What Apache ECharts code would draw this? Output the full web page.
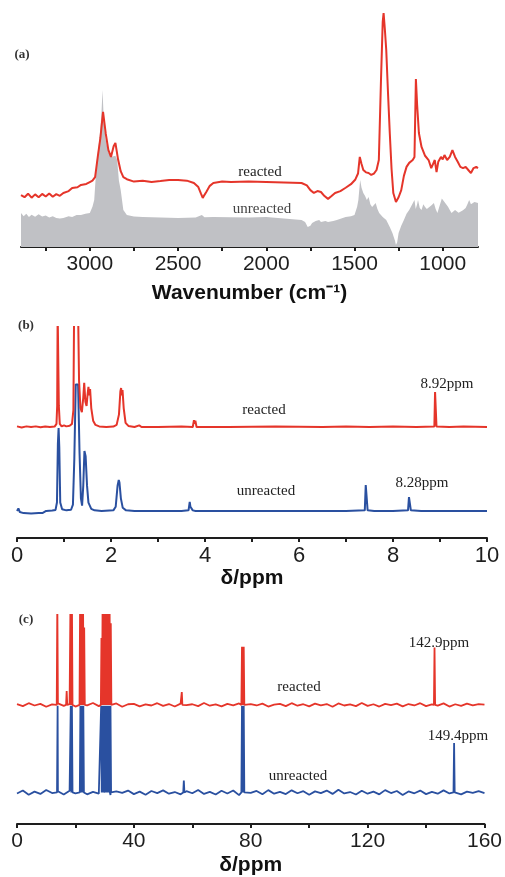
<!DOCTYPE html>
<html>
<head>
<meta charset="utf-8">
<script src="https://cdn.jsdelivr.net/npm/echarts@6/dist/echarts.min.js"></script>
<style>
  html, body { margin: 0; padding: 0; background: #fff; }
  #chart { width: 505px; height: 877px; }
</style>
</head>
<body>
<div id="chart"></div>
<script>
// (a) IR spectra, [wavenumber, intensity a.u.]
var irReacted = [
  [3390,21.9],[3370,21.0],[3350,22.5],[3330,20.8],[3310,22.2],[3290,21.0],[3270,22.4],[3250,21.3],[3230,22.6],[3210,21.2],
  [3190,22.3],[3170,21.6],[3150,22.8],[3120,23.6],[3100,24.9],[3070,25.2],[3050,26.2],[3020,26.6],[3000,27.4],[2985,28.0],
  [2970,29.5],[2955,38],[2940,46],[2925,57.0],[2910,48],[2895,41],[2880,38.0],[2865,42.5],[2855,43.9],[2840,37],
  [2825,32],[2810,29.5],[2790,28.6],[2750,27.6],[2700,28.0],[2650,27.4],[2600,27.8],[2550,28.3],[2500,28.3],[2450,28.0],
  [2410,27.0],[2385,25.3],[2370,22.5],[2360,20.7],[2350,22.0],[2340,23.2],[2320,25.8],[2300,27.0],[2250,27.6],[2200,27.4],
  [2100,27.6],[2000,27.4],[1900,27.2],[1800,27.0],[1770,26.0],[1750,24.0],[1730,22.8],[1710,23.6],[1690,23.2],[1670,21.5],
  [1650,20.3],[1630,21.5],[1610,22.8],[1580,23.6],[1550,25.0],[1520,26.5],[1495,28.5],[1480,31],[1470,38.0],[1460,35],
  [1450,32.5],[1435,31.5],[1420,31.2],[1405,30.4],[1390,31],[1375,32.5],[1362,36.7],[1350,70],[1340,95],[1335,98.7],
  [1328,92],[1320,83.1],[1310,65],[1300,48.1],[1290,33],[1280,22.8],[1265,19.0],[1250,21],[1235,24],[1220,30],
  [1205,33.8],[1190,35.5],[1170,36.7],[1160,38],[1152,70.9],[1145,60],[1135,48.1],[1120,42.2],[1100,38.5],[1080,36.7],
  [1065,33.3],[1055,35],[1045,36.7],[1035,31.6],[1025,36],[1010,38.0],[1000,37],[990,38.8],[975,36.7],[960,38],
  [945,40.9],[930,38],[915,36],[900,33.8],[885,33.3],[870,33.8],[855,32.5],[840,31.2],[825,33.3],[810,33.8],[800,33.3]
];
var irUnreacted = [
  [3390,14.3],[3375,13.0],[3360,14.0],[3345,12.7],[3330,13.6],[3310,12.8],[3290,13.8],[3270,12.9],[3250,13.3],[3230,12.4],
  [3210,13.0],[3190,12.2],[3170,12.0],[3150,12.2],[3120,13.0],[3100,12.7],[3075,13.5],[3050,13.5],[3025,14.0],[3000,14.3],
  [2985,17],[2975,19.8],[2960,36.7],[2945,46],[2935,55],[2928,66.2],[2920,52],[2910,45.1],[2895,40],[2880,38.0],
  [2870,38.8],[2855,38.5],[2845,36.7],[2835,28],[2825,24.1],[2810,15.6],[2790,13.5],[2750,12.9],[2700,12.7],[2600,12.4],
  [2500,12.2],[2400,12.4],[2365,13.5],[2350,12.6],[2300,12.7],[2200,12.6],[2100,12.4],[2000,12.7],[1900,12.0],[1800,11.4],
  [1780,10.5],[1765,8.4],[1750,9.0],[1740,10.1],[1720,11.0],[1700,11.4],[1690,10.5],[1680,10.1],[1665,11.0],[1650,10.5],
  [1620,11.0],[1600,11.4],[1575,12.0],[1550,12.7],[1520,13.0],[1500,13.5],[1485,17],[1478,19.8],[1468,28.3],[1460,25],
  [1450,22.8],[1440,21.5],[1430,19.8],[1420,21.1],[1410,18],[1400,16.9],[1390,17.5],[1380,18.6],[1370,16],[1360,14.3],
  [1340,12.7],[1320,11.4],[1300,8.4],[1285,5.9],[1270,2.5],[1265,0.8],[1258,2],[1250,5.9],[1235,9],[1220,11.4],
  [1205,14],[1190,15.6],[1175,17.7],[1165,17],[1160,19.8],[1153,16],[1145,18],[1140,19.8],[1130,16.5],[1120,15.6],
  [1110,18],[1100,16.9],[1090,16],[1080,15.6],[1065,17.5],[1050,18.6],[1040,16],[1030,14.3],[1015,18],[1005,20.5],
  [1000,21.1],[990,19],[980,18.6],[970,17],[960,15.6],[950,14.3],[940,14.0],[930,15.6],[920,15],[910,14.5],
  [900,14.3],[885,15.5],[870,16.5],[860,18],[850,19.8],[840,18],[830,18.6],[820,19.0],[810,19.5],[800,18.6]
];
var irTicks = [3250, 3000, 2750, 2500, 2250, 2000, 1750, 1500, 1250, 1000];
var irLabels = [3000, 2500, 2000, 1500, 1000];

// (b) 1H NMR, [ppm, intensity above own baseline]
var h1Reacted = [
  [0,0.3],[0.1,-0.2],[0.2,0.3],[0.3,0],[0.4,0.3],[0.5,-0.1],[0.6,0.2],[0.7,0],
  [0.8,0.2],[0.84,1.5],[0.855,10],[0.865,55],[0.88,55],[0.89,10],[0.91,1.5],[0.95,0.3],[1.0,0.8],[1.05,0.3],[1.12,0.6],
  [1.17,1.5],[1.20,8],[1.215,55],[1.30,55],[1.32,22],[1.35,9],[1.38,7],[1.41,14],[1.43,20.9],[1.455,12],[1.48,10],
  [1.50,15],[1.52,19],[1.54,15],[1.555,18],[1.58,9],[1.62,3],[1.67,1],[1.75,0.3],[1.9,0],[2.05,0.2],
  [2.12,1],[2.17,6],[2.20,17],[2.215,18.5],[2.23,15],[2.245,17.5],[2.27,9],[2.31,2],[2.37,0.5],[2.5,0],[2.6,0.8],[2.65,0],
  [3.0,0],[3.5,0.3],[3.74,0],[3.765,3.2],[3.78,1.5],[3.795,3.0],[3.82,0],
  [4.5,0],[5.5,0.2],[6.5,0],[7.0,0.3],[7.5,0],[8.0,0.2],[8.5,0],[8.88,0.3],[8.895,16.6],[8.91,16.6],[8.925,0.3],
  [9.2,0],[9.5,0.2],[10,0]
];
var h1Unreacted = [
  [0,0],[0.03,1.2],[0.06,-0.5],[0.1,0.3],[0.14,-1.0],[0.18,-0.4],[0.22,-1.1],[0.26,-0.5],[0.30,-1.2],[0.34,-0.6],
  [0.38,-1.1],[0.42,-0.5],[0.46,-1.0],[0.50,-0.6],[0.54,-1.0],[0.58,-0.4],[0.62,0],[0.75,0.2],
  [0.82,0.5],[0.85,4],[0.87,32],[0.885,39.3],[0.90,30],[0.92,4],[0.96,0.8],[1.05,0.3],[1.15,0.6],
  [1.19,3],[1.22,25],[1.25,60],[1.30,60],[1.33,28],[1.36,6],[1.385,2.5],[1.41,12],[1.435,28.4],[1.46,26],[1.49,12],
  [1.52,4],[1.58,1],[1.65,0.3],[1.8,0],
  [2.05,0.3],[2.10,2],[2.14,12],[2.165,14.7],[2.18,13.5],[2.21,6],[2.25,1.5],[2.32,0.3],[2.5,0],
  [3.0,0],[3.5,0],[3.65,0.3],[3.675,4.3],[3.69,2],[3.71,1.8],[3.74,0.3],[3.8,0],
  [5,0],[6,0],[7,0],[7.40,0.3],[7.42,12.3],[7.44,12.3],[7.46,0.3],[7.6,0],
  [8.0,0],[8.32,0.3],[8.34,6.6],[8.36,6.6],[8.38,0.3],[8.6,0],[10,0]
];
var h1Ticks = [0, 1, 2, 3, 4, 5, 6, 7, 8, 9, 10];
var h1Labels = [0, 2, 4, 6, 8, 10];

// (c) 13C NMR: baseline noise every 2 ppm from 0 to 160, and peaks [ppm, height]
var c13Step = 2;
var c13ReactedNoise = [
  0.4,-0.6,0.8,-0.3,0.5,-0.9,0.2,0.7,-0.5,0.3,
  -0.8,0.6,-0.2,0.9,-0.6,0.1,-0.4,0.7,-0.9,0.3,
  0.5,-0.7,0.2,-0.3,0.8,-0.5,0.4,-0.8,0.6,-0.1,
  0.3,-0.6,0.9,-0.4,0.2,-0.7,0.5,-0.2,0.7,-0.9,
  0.4,-0.3,0.6,-0.8,0.1,0.5,-0.6,0.8,-0.4,0.3,
  -0.7,0.6,-0.2,0.4,-0.9,0.7,-0.3,0.2,-0.6,0.9,
  -0.5,0.3,-0.8,0.5,-0.1,0.6,-0.7,0.4,-0.3,0.8,
  -0.6,0.2,-0.4,0.7,-0.8,0.3,-0.5,0.6,-0.2,0.4,0.1
];
var c13UnreactedNoise = [
  -0.5,0.9,-1.1,0.4,-0.7,1.2,-0.3,0.6,-1.0,0.8,
  -0.4,1.1,-0.9,0.3,-0.6,1.0,-1.2,0.5,-0.2,0.9,
  -0.8,0.4,-1.1,0.7,-0.3,1.0,-0.6,0.2,-0.9,0.6,
  -0.4,1.2,-0.7,0.3,-1.0,0.8,-0.5,0.9,-1.3,0.4,
  -0.2,0.7,-0.9,1.1,-0.6,0.3,-0.8,1.0,-0.4,0.6,
  -1.1,0.5,-0.3,0.9,-0.7,1.3,-0.5,0.2,-1.0,0.8,
  -0.6,0.4,-0.9,1.1,-0.3,0.7,-1.2,0.5,-0.4,0.9,
  -0.8,0.3,-0.6,1.0,-0.5,0.7,-0.9,0.4,-0.2,0.6,-0.3
];
var c13ReactedPeaks = [
  [13.8,50],[17.0,6.6],[18.3,50],[18.8,50],[21.6,50],[22.1,50],[22.6,50],[23.0,37],
  [28.9,32],[29.3,50],[29.7,50],[30.1,50],[30.5,50],[30.9,50],[31.3,50],[31.7,45],[32.1,39],
  [56.4,6.1],[77.0,27.8],[77.3,27.8],[77.6,27.8],[142.9,27.4]
];
var c13UnreactedPeaks = [
  [13.9,41.5],[18.4,41.5],[18.8,41.5],[21.7,41.5],[22.2,41.5],[22.7,41.5],
  [28.8,41.5],[29.2,41.5],[29.6,41.5],[30.0,41.5],[30.4,41.5],[30.8,41.5],[31.2,41.5],[31.6,41.5],[32.0,41.5],
  [57.1,5.7],[77.0,41.5],[77.3,41.5],[77.6,41.5],[149.6,23.6]
];
var c13Ticks = [0, 20, 40, 60, 80, 100, 120, 140, 160];
var c13Labels = [0, 40, 80, 120, 160];

// vertical offsets of the stacked traces (y axes run 0..100)
var offB = { reacted: 52.6, unreacted: 12.8 };
var offC = { reacted: 57, unreacted: 15.1 };

var RED = '#e5352a', BLUE = '#2a50a0', GRAY = '#c0c1c5', INK = '#1e1e1e';
var SANS = 'Liberation Sans, Arial, sans-serif';

function shift(data, off) {
  return data.map(function (p) { return [p[0], p[1] + off]; });
}
// baseline noise + narrow stick peaks, sorted by ppm
function stickSpectrum(noise, peaks, off) {
  var pts = noise.map(function (v, i) { return [i * c13Step, v]; });
  var hw = 0.2;
  peaks.forEach(function (p) {
    pts.push([p[0] - hw, 0], [p[0], p[1]], [p[0] + hw, 0]);
  });
  pts.sort(function (a, b) { return a[0] - b[0]; });
  return shift(pts, off);
}

function xAxisFor(idx, ticks, labels, fontSize, opts) {
  return Object.assign({
    gridIndex: idx,
    type: 'value',
    axisLine: { show: true, onZero: false, lineStyle: { color: INK, width: 2 } },
    axisTick: { show: true, length: 4, customValues: ticks, lineStyle: { color: INK, width: 2 } },
    axisLabel: {
      customValues: labels, fontSize: fontSize, color: INK, margin: 7, fontFamily: SANS,
      formatter: function (v) { return String(v); }
    },
    splitLine: { show: false },
    nameLocation: 'middle',
    nameTextStyle: { fontSize: 21, fontWeight: 'bold', color: '#111', fontFamily: SANS }
  }, opts);
}

function lineSeries(x, data, color, width, extra) {
  return Object.assign({
    type: 'line', xAxisIndex: x, yAxisIndex: x, data: data,
    showSymbol: false, symbol: 'none', smooth: false, clip: true,
    lineStyle: { color: color, width: width }, itemStyle: { color: color },
    silent: true, animation: false
  }, extra || {});
}

function txt(x, y, text, size, color, bold) {
  return {
    type: 'text', x: x, y: y, silent: true,
    style: {
      text: text, fill: color, align: 'center', verticalAlign: 'middle',
      font: (bold ? 'bold ' : '') + size + 'px "Liberation Serif", "Times New Roman", serif'
    }
  };
}

var chart = echarts.init(document.getElementById('chart'), null, { renderer: 'canvas' });

chart.setOption({
  backgroundColor: '#fff',
  animation: false,
  grid: [
    { left: 21, right: 27, top: 10, height: 237 },
    { left: 17, right: 18, top: 327, height: 211 },
    { left: 17, right: 18, top: 615, height: 212 }
  ],
  xAxis: [
    xAxisFor(0, irTicks, irLabels, 21, {
      inverse: true, min: 800, max: 3390,
      name: 'Wavenumber (cm\u207B\u00B9)', nameGap: 36
    }),
    xAxisFor(1, h1Ticks, h1Labels, 22, { min: 0, max: 10, name: '\u03B4/ppm', nameGap: 23 }),
    xAxisFor(2, c13Ticks, c13Labels, 21, { min: 0, max: 160, name: '\u03B4/ppm', nameGap: 31 })
  ],
  yAxis: [0, 1, 2].map(function (i) {
    return { gridIndex: i, type: 'value', min: 0, max: 100, show: false };
  }),
  series: [
    lineSeries(0, irUnreacted, GRAY, 0, { areaStyle: { color: GRAY, opacity: 1 }, lineStyle: { width: 0, color: GRAY } }),
    lineSeries(0, irReacted, RED, 2),
    lineSeries(1, shift(h1Unreacted, offB.unreacted), BLUE, 2),
    lineSeries(1, shift(h1Reacted, offB.reacted), RED, 2),
    lineSeries(2, stickSpectrum(c13UnreactedNoise, c13UnreactedPeaks, offC.unreacted), BLUE, 1.8),
    lineSeries(2, stickSpectrum(c13ReactedNoise, c13ReactedPeaks, offC.reacted), RED, 1.8)
  ],
  graphic: [
    txt(22, 55, '(a)', 13, '#333', true),
    txt(260, 172, 'reacted', 15, '#222'),
    txt(262, 209, 'unreacted', 15, '#444'),
    txt(26, 326, '(b)', 13, '#333', true),
    txt(264, 410, 'reacted', 15, '#222'),
    txt(266, 491, 'unreacted', 15, '#222'),
    txt(447, 384, '8.92ppm', 15, '#222'),
    txt(422, 483, '8.28ppm', 15, '#222'),
    txt(26, 620, '(c)', 13, '#333', true),
    txt(299, 687, 'reacted', 15, '#222'),
    txt(298, 776, 'unreacted', 15, '#222'),
    txt(439, 643, '142.9ppm', 15, '#222'),
    txt(458, 736, '149.4ppm', 15, '#222')
  ]
});
</script>
</body>
</html>
